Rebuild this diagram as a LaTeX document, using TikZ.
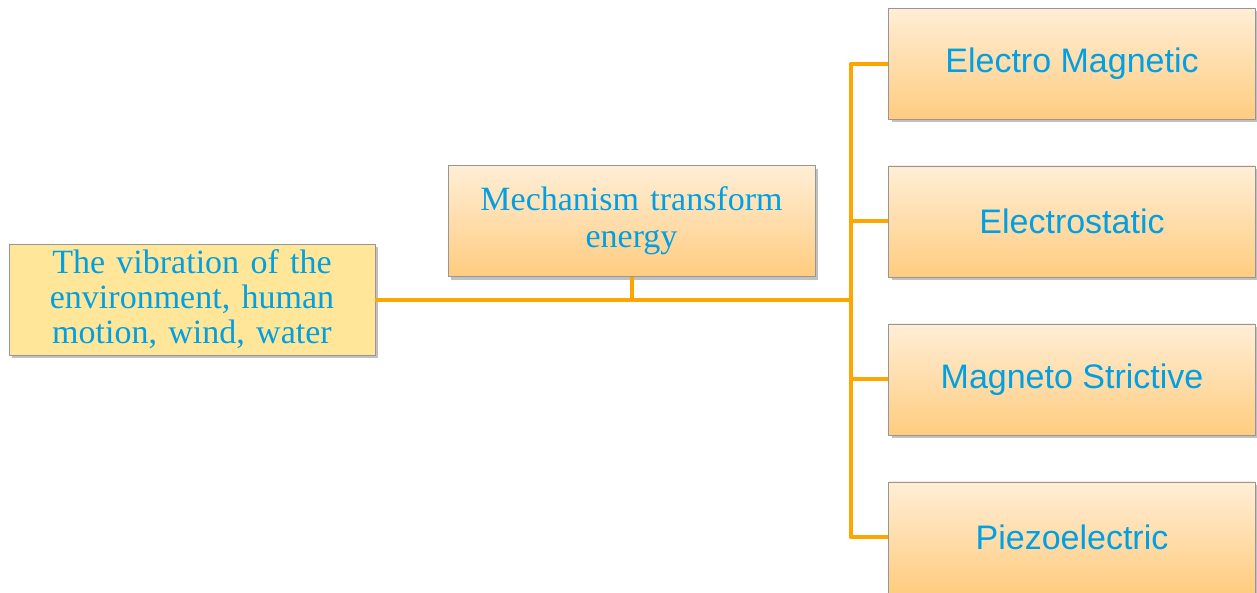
\documentclass[tikz,border=0pt]{standalone}
\usepackage{fontspec}
\setmainfont{Liberation Serif}
\newfontfamily\kindfont{Liberation Sans}
\usetikzlibrary{positioning,shadows}
\definecolor{linkorange}{RGB}{255,165,0}
\definecolor{textblue}{RGB}{0,160,227}
\definecolor{boxtop}{RGB}{255,238,214}
\definecolor{boxbottom}{RGB}{255,204,128}
\definecolor{srcfill}{RGB}{255,230,153}
\definecolor{boxline}{RGB}{150,150,150}

\begin{document}
\begin{tikzpicture}[x=1pt,y=-1pt,node distance=46.5pt,line join=round]
  \tikzstyle{every node}=[text=textblue]
  \tikzstyle{box}=[draw=boxline, thin, rectangle, minimum width=367pt,
                   minimum height=111pt, inner sep=0pt, align=center,
                   drop shadow={shadow xshift=3pt, shadow yshift=-3pt,
                                opacity=0.35, fill=black!70}]
  \tikzstyle{stage}=[box, top color=boxtop, bottom color=boxbottom]
  \tikzstyle{kind}=[stage, font=\kindfont\fontsize{34}{40}\selectfont]
  \tikzstyle{link}=[draw=linkorange, line width=4pt]
  \useasboundingbox (0,0) rectangle (1257,592);

  \node[box, fill=srcfill, minimum width=366pt, text width=340pt,
        font=\fontsize{34}{35}\selectfont] (SRC) at (192,299.5)
  {The vibration of the\\ environment, human\\ motion, wind, water};
  \node[stage, text width=340pt, font=\fontsize{34}{37}\selectfont]
        (MECH) at (631.5,221) {Mechanism transform\\ energy};

  \node[kind] (EM) at (1072,63.5) {Electro Magnetic};
  \node[kind] (ES) [below=of EM] {Electrostatic};
  \node[kind] (MS) [below=of ES] {Magneto Strictive};
  \node[kind] (PZ) [below=of MS] {Piezoelectric};

  \coordinate (BUS) at (851,0);
  \draw[link] (SRC.east) -- (SRC.east -| BUS);
  \draw[link] (MECH.south) -- (MECH.south |- SRC.east);
  \draw[link] (EM.west) -| (BUS |- PZ.west) -- (PZ.west);
  \draw[link] (ES.west) -- (ES.west -| BUS);
  \draw[link] (MS.west) -- (MS.west -| BUS);
\end{tikzpicture}
\end{document}
